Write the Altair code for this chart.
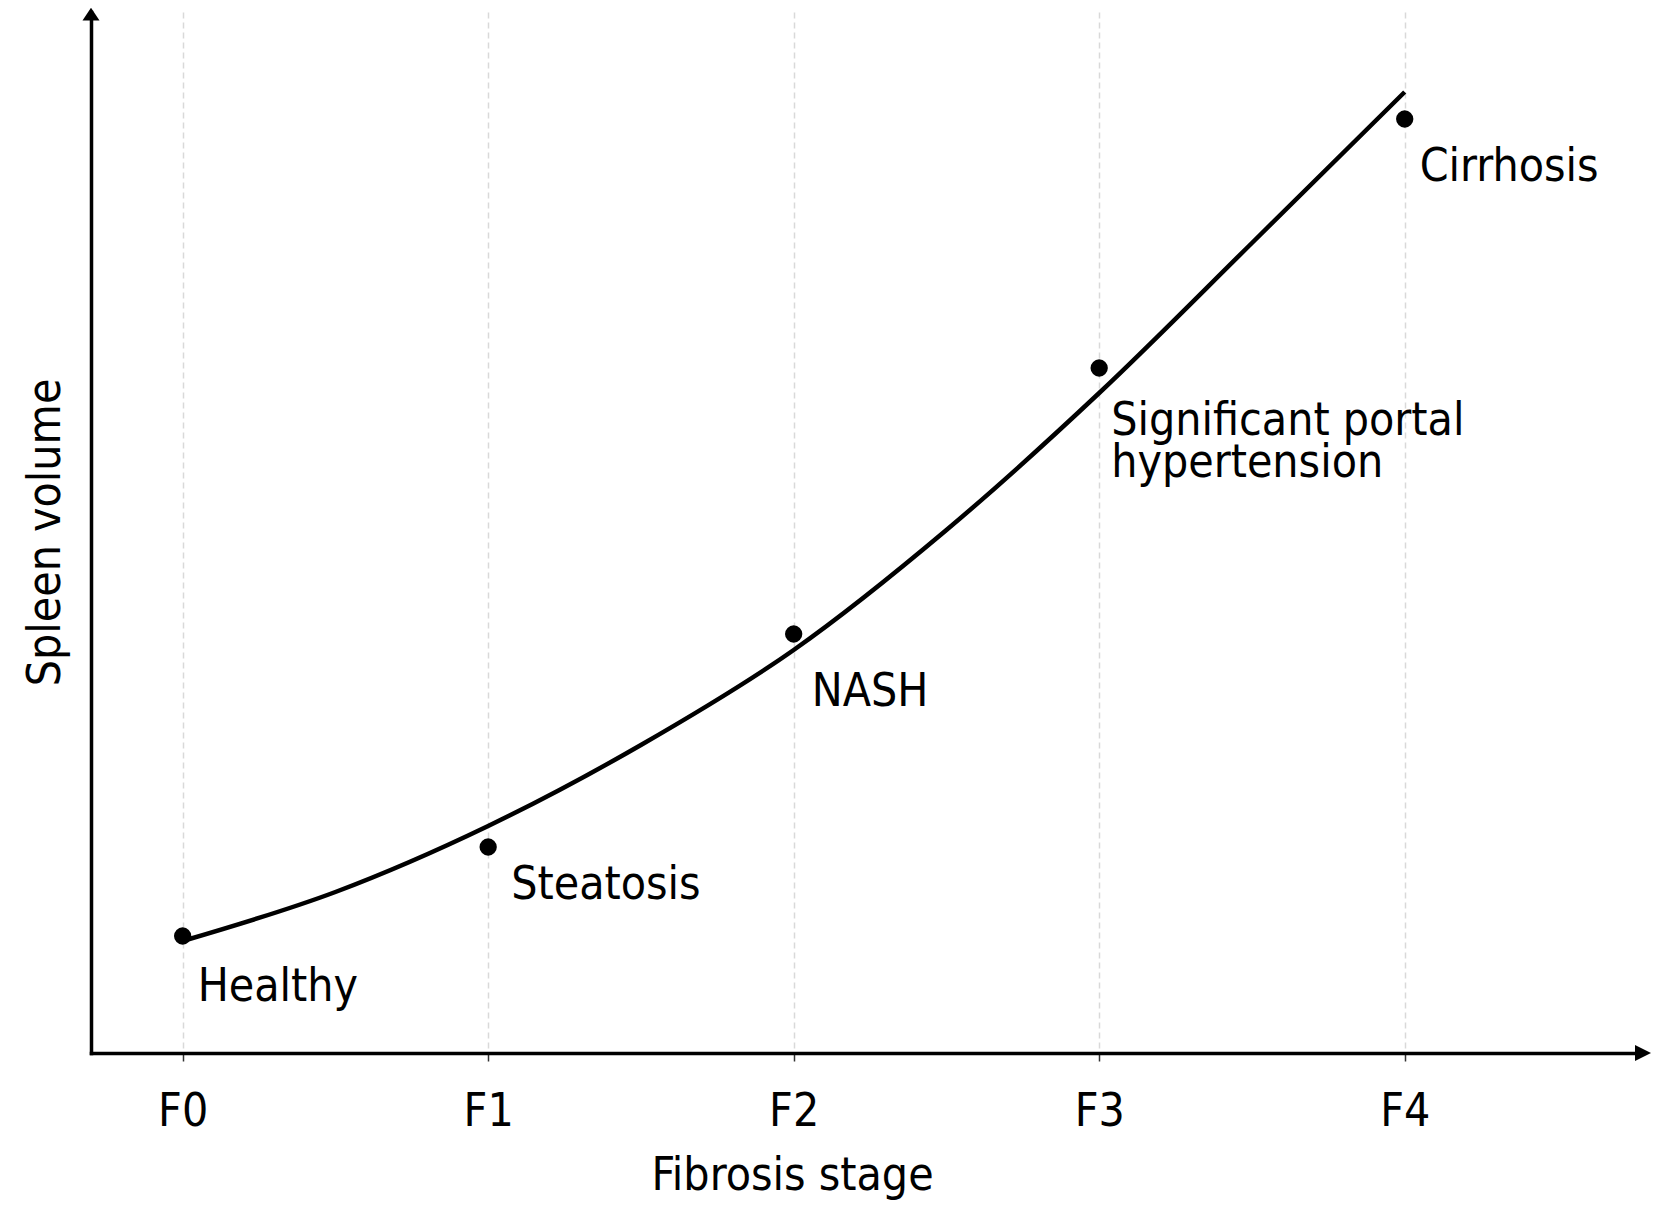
import altair as alt
import pandas as pd

# fibrosis stages and their labels
stages = [0, 1, 2, 3, 4]
stage_labels = ["F0", "F1", "F2", "F3", "F4"]

# marked points (arbitrary volume units)
point_volume = [11.7, 20.6, 41.9, 68.5, 93.4]
point_names = ["Healthy", "Steatosis", "NASH",
               "Significant portal\nhypertension", "Cirrhosis"]

# trend curve
curve_stage = [0, 0.5, 1, 1.5, 2, 2.5, 3, 3.5, 4]
curve_volume = [11.2, 16.1, 22.7, 30.8, 40.3, 52.3, 66.0, 81.0, 96.1]

x_domain = [-0.3, 4.78]
y_domain = [0, 104.1]

FONT = "DejaVu Sans Condensed"

points = pd.DataFrame({"idx": list(range(len(stages))), "stage": stages,
                       "volume": point_volume, "name": point_names})
curve = pd.DataFrame({"stage": curve_stage, "volume": curve_volume})
arrows = pd.DataFrame({"stage": [x_domain[0], x_domain[1]],
                       "volume": [y_domain[1], y_domain[0]],
                       "dir": ["up", "right"]})

label_expr = "[" + ",".join(f"'{s}'" for s in stage_labels) + "][datum.value]"

x_enc = alt.X(
    "stage:Q",
    scale=alt.Scale(domain=x_domain, nice=False, zero=False),
    axis=alt.Axis(
        values=stages, labelExpr=label_expr, title="Fibrosis stage",
        grid=True, gridDash=[6, 4], gridColor="#d9d9d9", gridWidth=1.5,
        ticks=True, tickSize=8, tickColor="#333333", tickWidth=1.5,
        domainColor="black", domainWidth=3.5, domainCap="square",
        labelFont=FONT, labelFontSize=46, labelColor="black",
        labelBaseline="alphabetic", labelPadding=64, labelFlush=False,
        titleFont=FONT, titleFontSize=46, titleFontWeight="normal",
        titleColor="black", titleX=701, titleY=136,
        titleBaseline="alphabetic", titleAlign="center",
    ),
)
y_enc = alt.Y(
    "volume:Q",
    scale=alt.Scale(domain=y_domain, nice=False, zero=False),
    axis=alt.Axis(
        title="Spleen volume", labels=False, ticks=False, grid=False,
        domainColor="black", domainWidth=3.5, domainCap="square",
        titleFont=FONT, titleFontSize=46, titleFontWeight="normal",
        titleColor="black", titleX=-32, titleY=520,
        titleAlign="center", titleBaseline="alphabetic",
    ),
)

line = alt.Chart(curve).mark_line(
    color="black", strokeWidth=4.5, interpolate="monotone"
).encode(x=x_enc, y=y_enc)

dots = alt.Chart(points).mark_circle(
    color="black", size=300, opacity=1
).encode(x=x_enc, y=y_enc)

# label offsets from each dot
label_dx = [15, 23, 18, 12, 15]
label_dy = [65, 52, 72, 67, 62]

labels = []
for i in range(len(point_names)):
    labels.append(
        alt.Chart(points).transform_filter(alt.datum.idx == i).mark_text(
            align="left", baseline="alphabetic", font=FONT, fontSize=46,
            color="black", dx=label_dx[i], dy=label_dy[i],
            lineBreak="\n", lineHeight=42,
        ).encode(x=x_enc, y=y_enc, text="name:N")
    )

up_arrow = alt.Chart(arrows).transform_filter(alt.datum.dir == "up").mark_point(
    shape="M-1,1L0,-0.5L1,1Z", filled=True, color="black",
    size=289, opacity=1, strokeWidth=0
).encode(x=x_enc, y=y_enc)

right_arrow = alt.Chart(arrows).transform_filter(alt.datum.dir == "right").mark_point(
    shape="M-1,-1L1,0L-1,1Z", filled=True, color="black",
    size=256, opacity=1, strokeWidth=0
).encode(x=x_enc, y=y_enc)

chart = alt.layer(line, dots, *labels, up_arrow, right_arrow).properties(
    width=1552, height=1041,
    autosize=alt.AutoSizeParams(type="none"),
    padding={"left": 83, "top": 4, "right": 10, "bottom": 158},
    background="white",
).configure_view(stroke=None)

chart.save("out.html", embed_options={"renderer": "svg", "actions": False})
